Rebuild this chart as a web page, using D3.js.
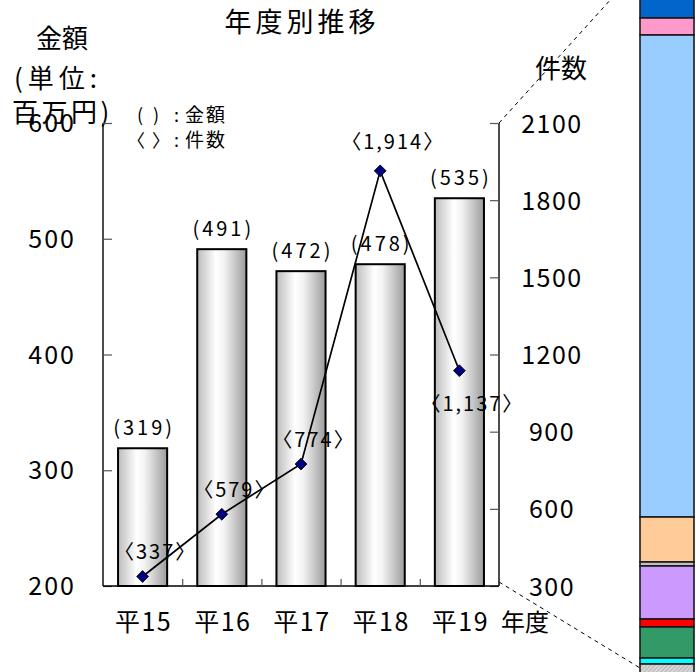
<!DOCTYPE html>
<html><head><meta charset="utf-8">
<script src="https://cdn.jsdelivr.net/npm/d3@7"></script>
<style>
body{margin:0;background:#fff}
svg{display:block}
text{font-family:"Noto Sans CJK JP","Noto Sans",sans-serif;fill:#000}
</style>
</head><body>
<svg id="chart" width="696" height="672"></svg>
<script>
// Yearly totals: amount (million yen, bars) and number of cases (line)
const years = ["平15", "平16", "平17", "平18", "平19"];
const amounts = [319, 491, 472, 478, 535];
const counts = [337, 579, 774, 1914, 1137];
const amountTicks = [200, 300, 400, 500, 600];
const countTicks = [300, 600, 900, 1200, 1500, 1800, 2100];

// Breakdown column on the right (top to bottom)
const stripShares = [51, 17, 482, 45, 4, 53, 8, 31, 6, 10];
const stripColors = ["#0066cc", "#ff99cc", "#99ccff", "#ffcc99", "#c0c0c0",
                     "#cc99ff", "#ff0000", "#339966", "#00ffff", "url(#hatch)"];

const svg = d3.select("#chart");
const P = {left: 103, right: 499, top: 123, bottom: 586};

const defs = svg.append("defs");
const grad = defs.append("linearGradient").attr("id", "barGrad")
  .attr("x1", "0%").attr("x2", "100%").attr("y1", "0%").attr("y2", "0%");
[[0, "#bcbcbc"], [0.38, "#ffffff"], [0.55, "#f2f2f2"], [1, "#9c9c9c"]]
  .forEach(([o, c]) => grad.append("stop").attr("offset", o).attr("stop-color", c));
const hatch = defs.append("pattern").attr("id", "hatch").attr("patternUnits", "userSpaceOnUse")
  .attr("width", 3).attr("height", 3).attr("patternTransform", "rotate(45)");
hatch.append("rect").attr("width", 3).attr("height", 3).attr("fill", "#d8d8d8");
hatch.append("line").attr("x1", 0).attr("y1", 0).attr("x2", 0).attr("y2", 3)
  .attr("stroke", "#a0a0a0").attr("stroke-width", 1.2);

const x = d3.scaleBand().domain(years).range([P.left, P.right]).paddingInner(0.38).paddingOuter(0.19);
const yL = d3.scaleLinear().domain([200, 600]).range([P.bottom, P.top]);
const yR = d3.scaleLinear().domain([300, 2100]).range([P.bottom, P.top]);

// Title and axis titles
svg.append("text").attr("x", 302).attr("y", 32).attr("text-anchor", "middle")
  .attr("font-size", 27).attr("letter-spacing", 4).text("年度別推移");
const lt = svg.append("g").attr("font-size", 26);
lt.append("text").attr("x", 62).attr("y", 48).attr("text-anchor", "middle").text("金額");
lt.append("text").attr("x", 14).attr("y", 88).attr("letter-spacing", 5).text("(単位:");
lt.append("text").attr("x", 12).attr("y", 122).attr("letter-spacing", 3.5).text("百万円)");
svg.append("text").attr("x", 561).attr("y", 78).attr("text-anchor", "middle")
  .attr("font-size", 26).text("件数");

// Legend for bracket styles
const lg = svg.append("g").attr("font-size", 18);
lg.append("text").attr("x", 140).attr("y", 122).attr("text-anchor", "middle").text("(");
lg.append("text").attr("x", 156).attr("y", 122).attr("text-anchor", "middle").text(")");
lg.append("text").attr("x", 136).attr("y", 147).attr("text-anchor", "middle").text("〈");
lg.append("text").attr("x", 161).attr("y", 147).attr("text-anchor", "middle").text("〉");
[["金額", 122], ["件数", 147]].forEach(([t, y]) => {
  lg.append("text").attr("x", 174).attr("y", y).text(":");
  lg.append("text").attr("x", 185).attr("y", y).attr("font-size", 19).attr("letter-spacing", 2).text(t);
});

// Leader lines to the breakdown column
const stripX = 640, stripW = 54;
const total = d3.sum(stripShares);
const ys = d3.scaleLinear().domain([0, total]).range([-33, 674]);
svg.append("line").attr("x1", P.right).attr("y1", P.top).attr("x2", stripX).attr("y2", ys(0))
  .attr("stroke", "#000").attr("stroke-dasharray", "4,4");
svg.append("line").attr("x1", P.right).attr("y1", P.bottom - 4).attr("x2", stripX).attr("y2", 668)
  .attr("stroke", "#000").attr("stroke-dasharray", "4,4");

// Breakdown column
let acc = 0;
const segs = stripShares.map((v, i) => { const s = {y0: acc, y1: acc + v, c: stripColors[i]}; acc += v; return s; });
svg.append("g").selectAll("rect").data(segs).join("rect")
  .attr("x", stripX).attr("width", stripW)
  .attr("y", d => ys(d.y0)).attr("height", d => ys(d.y1) - ys(d.y0))
  .attr("fill", d => d.c).attr("stroke", "#1a1a1a").attr("stroke-width", 1.6);

// Bars
svg.append("g").selectAll("rect").data(years).join("rect")
  .attr("x", d => x(d)).attr("width", x.bandwidth())
  .attr("y", (d, i) => yL(amounts[i])).attr("height", (d, i) => yL(200) - yL(amounts[i]))
  .attr("fill", "url(#barGrad)").attr("stroke", "#000").attr("stroke-width", 2);

// Axes
const axL = svg.append("g").attr("transform", `translate(${P.left},0)`)
  .call(d3.axisRight(yL).tickValues(amountTicks).tickSize(9).tickFormat(""));
const axR = svg.append("g").attr("transform", `translate(${P.right},0)`)
  .call(d3.axisLeft(yR).tickValues(countTicks).tickSize(9).tickFormat(""));
const axB = svg.append("g").attr("transform", `translate(0,${P.bottom})`)
  .call(d3.axisTop(d3.scaleLinear().domain([0, years.length]).range([P.left, P.right]))
    .tickValues(d3.range(1, years.length)).tickSize(7).tickFormat(""));
[axL, axR, axB].forEach(a => {
  a.select(".domain").attr("stroke", "#000").attr("stroke-width", 1.4);
  a.selectAll(".tick line").attr("stroke", "#555").attr("stroke-width", 1.2);
});
axL.select(".domain").attr("d", `M0,${P.top}V${P.bottom}`);
axR.select(".domain").attr("d", `M0,${P.top}V${P.bottom}`);
axB.select(".domain").attr("d", `M${P.left},0H${P.right}`);

// Tick labels
svg.append("g").attr("font-size", 25).attr("text-anchor", "end").attr("letter-spacing", 2)
  .selectAll("text").data(amountTicks).join("text")
  .attr("x", 76).attr("y", d => yL(d)).attr("dy", "0.36em").text(d => d);
svg.append("g").attr("font-size", 25).attr("text-anchor", "middle").attr("letter-spacing", 1.5)
  .selectAll("text").data(countTicks).join("text")
  .attr("x", 552).attr("y", d => yR(d)).attr("dy", "0.38em").text(d => d);
svg.append("g").attr("font-size", 25).attr("text-anchor", "middle").attr("letter-spacing", 1.5)
  .selectAll("text").data(years).join("text")
  .attr("x", d => x(d) + x.bandwidth() / 2 + 1).attr("y", 631).text(d => d);
svg.append("text").attr("x", 501).attr("y", 631).attr("font-size", 24).text("年度");

// Amount labels above bars
svg.append("g").attr("font-size", 20).attr("text-anchor", "middle").attr("letter-spacing", 3)
  .selectAll("text").data(amounts).join("text")
  .attr("x", (d, i) => x(years[i]) + x.bandwidth() / 2 + 1.5)
  .attr("y", d => yL(d) - 13).text(d => `(${d})`);

// Count line with diamond markers
const cx = i => x(years[i]) + x.bandwidth() / 2;
svg.append("path").datum(counts)
  .attr("d", d3.line().x((d, i) => cx(i)).y(d => yR(d)))
  .attr("fill", "none").attr("stroke", "#000").attr("stroke-width", 1.7);
svg.append("g").selectAll("path").data(counts).join("path")
  .attr("d", d3.symbol(d3.symbolSquare, 70))
  .attr("transform", (d, i) => `translate(${cx(i)},${yR(d)}) rotate(45)`)
  .attr("fill", "#000080").attr("stroke", "#000").attr("stroke-width", 0.8);

// Count labels (the last one sits below its marker)
const fmt = d3.format(",");
svg.append("g").attr("font-size", 20).attr("text-anchor", "middle").attr("letter-spacing", 2)
  .selectAll("text").data(counts).join("text")
  .attr("x", (d, i) => cx(i) + 13)
  .attr("y", (d, i) => i === counts.length - 1 ? yR(d) + 40 : yR(d) - (d > 1500 ? 22 : 17))
  .text(d => `〈${fmt(d)}〉`);
</script>
</body></html>
